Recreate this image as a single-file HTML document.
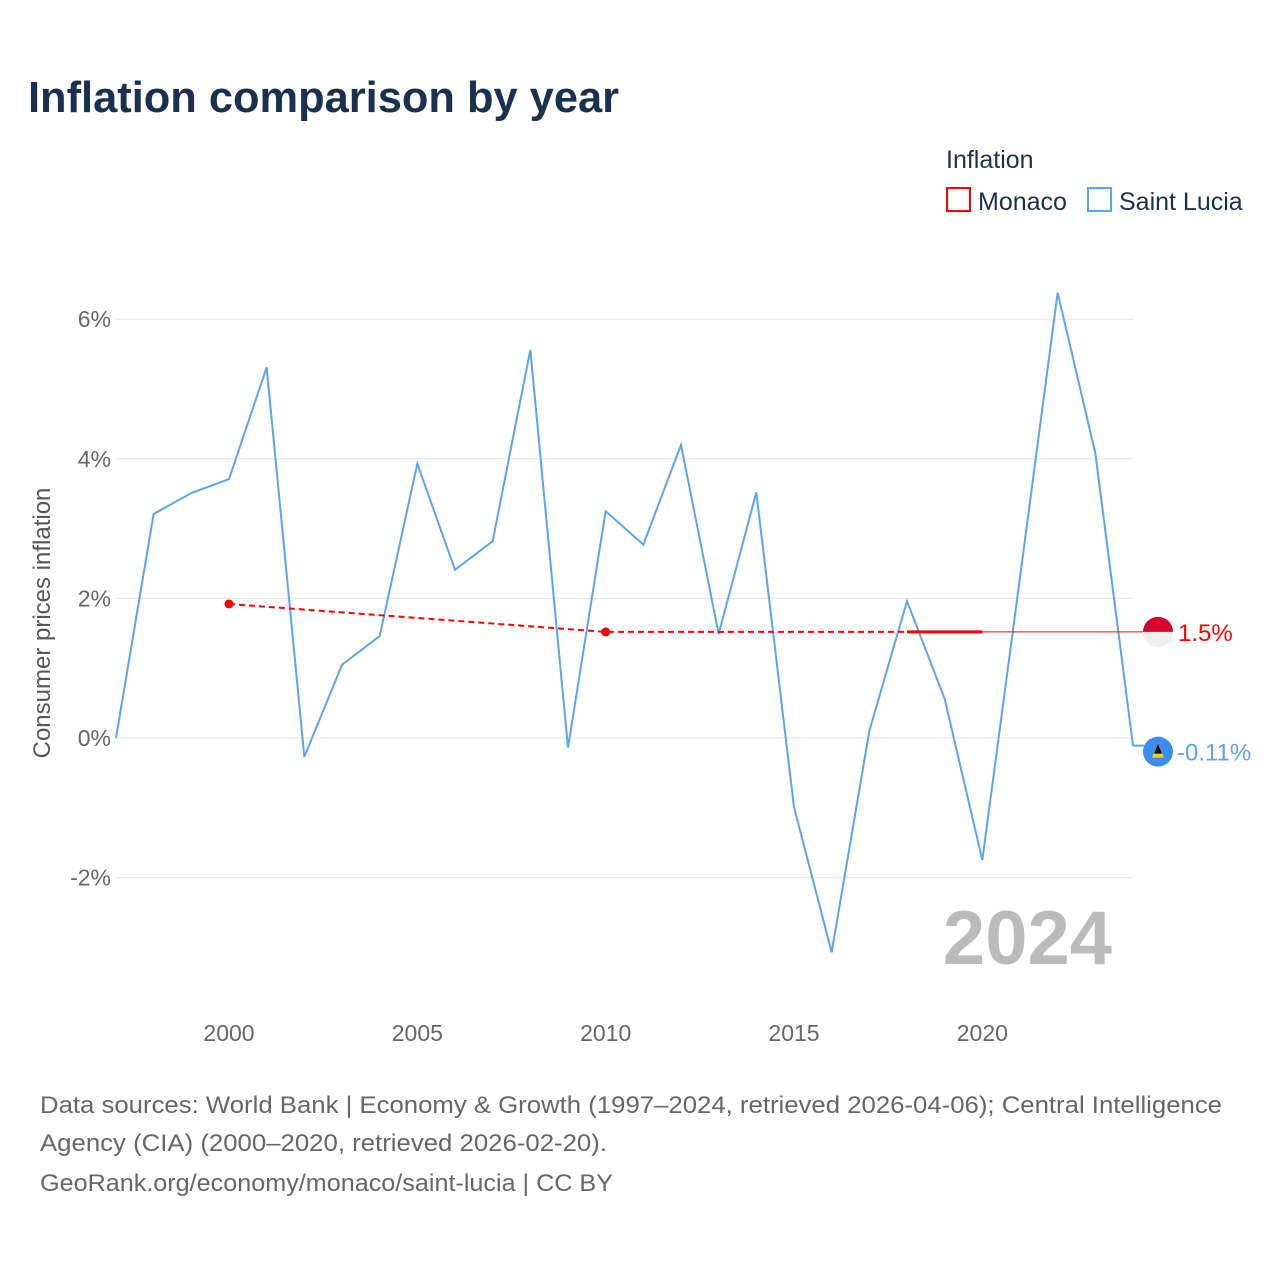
<!DOCTYPE html>
<html><head><meta charset="utf-8"><style>
body{margin:0;background:#fff;font-family:"Liberation Sans",sans-serif}
svg text{font-family:"Liberation Sans",sans-serif}
</style></head><body>
<svg width="1280" height="1280" viewBox="0 0 1280 1280">
<text x="28" y="112" font-size="44" font-weight="bold" fill="#1a3050" textLength="591" lengthAdjust="spacingAndGlyphs">Inflation comparison by year</text>
<g>
<text x="946" y="168" font-size="25" fill="#1a3050">Inflation</text>
<g><rect x="947" y="188" width="23" height="23" fill="none" stroke="#f00" stroke-width="2"/><text x="978" y="210" font-size="25" fill="#1a3050">Monaco</text></g>
<g><rect x="1088" y="188" width="23" height="23" fill="none" stroke="#5aa5ee" stroke-width="2"/><text x="1119" y="210" font-size="25" fill="#1a3050">Saint Lucia</text></g>
</g>
<g id="grid"></g>
<g id="yt"></g>
<g id="xt"></g>
<text transform="translate(50,623) rotate(-90)" text-anchor="middle" font-size="24" fill="#555">Consumer prices inflation</text>
<text x="1112" y="964" text-anchor="end" font-size="76" font-weight="bold" fill="#bbb">2024</text>
<g id="series"></g>
<text x="40" y="1113" font-size="24" fill="#666" textLength="1182" lengthAdjust="spacingAndGlyphs">Data sources: World Bank | Economy &amp; Growth (1997–2024, retrieved 2026-04-06); Central Intelligence</text>
<text x="40" y="1151" font-size="24" fill="#666" textLength="567" lengthAdjust="spacingAndGlyphs">Agency (CIA) (2000–2020, retrieved 2026-02-20).</text>
<text x="40" y="1191" font-size="24" fill="#666" textLength="573" lengthAdjust="spacingAndGlyphs">GeoRank.org/economy/monaco/saint-lucia | CC BY</text>
</svg>
<script>
const yTicks=[-2,0,2,4,6];
const xTicks=[2000,2005,2010,2015,2020];
const luciaYears=[1997,1998,1999,2000,2001,2002,2003,2004,2005,2006,2007,2008,2009,2010,2011,2012,2013,2014,2015,2016,2017,2018,2019,2020,2021,2022,2023,2024];
const luciaValues=[0,3.21,3.51,3.71,5.31,-0.27,1.05,1.46,3.93,2.41,2.82,5.56,-0.14,3.25,2.77,4.2,1.49,3.52,-0.99,-3.07,0.1,1.96,0.56,-1.75,2.3,6.38,4.08,-0.11];
const monacoYears=[2000,2010,2018,2020];
const monacoValues=[1.92,1.52,1.52,1.52];
const NS='http://www.w3.org/2000/svg';
const X=y=>116+(y-1997)*(1133-116)/27;
const Y=v=>738-v*69.8;
function mk(t,a,p){const e=document.createElementNS(NS,t);for(const k in a)e.setAttribute(k,a[k]);p.appendChild(e);return e;}
const grid=document.getElementById('grid'),yt=document.getElementById('yt'),xt=document.getElementById('xt'),S=document.getElementById('series');
yTicks.forEach(v=>{
 const l=mk('line',{x1:116,x2:1133,y1:Y(v),y2:Y(v),stroke:'#e6e6e6','stroke-width':1},grid);
 
 
 const t=mk('text',{x:111,y:Y(v)+8,'text-anchor':'end','font-size':23,fill:'#666'},yt);t.textContent=v+'%';
 
 
});
xTicks.forEach(y=>{
 const t=mk('text',{x:X(y),y:1041,'text-anchor':'middle','font-size':23,fill:'#666'},xt);t.textContent=y;
 
 
});
const lp=luciaYears.map((y,i)=>X(y)+','+Y(luciaValues[i])).join(' ');
const ll=mk('polyline',{points:lp,fill:'none',stroke:'#5aa5ee','stroke-width':2},S);


const lastM=monacoValues[monacoValues.length-1];
const ref=mk('line',{x1:X(2018),x2:1150,y1:Y(lastM),y2:Y(lastM),stroke:'#f00','stroke-width':1},S);


const dp=monacoYears.slice(0,3).map((y,i)=>X(y)+','+Y(monacoValues[i])).join(' ');
const md=mk('polyline',{points:dp,fill:'none',stroke:'#f00','stroke-width':2,'stroke-dasharray':'6,4'},S);


const ms=mk('line',{x1:X(monacoYears[2]),y1:Y(monacoValues[2]),x2:X(monacoYears[3]),y2:Y(monacoValues[3]),stroke:'#f00','stroke-width':3},S);


[0,1].forEach(i=>{const c=mk('circle',{cx:X(monacoYears[i]),cy:Y(monacoValues[i]),r:4.5,fill:'#f00'},S);
 
 });
const lastL=luciaValues[luciaValues.length-1];
const lt=mk('line',{x1:X(2024),x2:1150,y1:Y(lastL),y2:Y(lastL),stroke:'#5aa5ee','stroke-width':2},S);


const fy=Y(lastM);
const g1=mk('g',{},S);


mk('clipPath',{id:'cf'},g1);mk('circle',{cx:1158,cy:fy,r:15},document.getElementById('cf'));
mk('rect',{x:1143,y:fy-15,width:30,height:15,fill:'#d5002b','clip-path':'url(#cf)'},g1);
mk('rect',{x:1143,y:fy,width:30,height:15,fill:'#eee','clip-path':'url(#cf)'},g1);
const t1=mk('text',{x:1178,y:fy+9,'font-size':24,fill:'#f00'},S);t1.textContent=lastM.toFixed(1)+'%';


const ly=Y(lastL)+6;
const g2=mk('g',{},S);


mk('circle',{cx:1158,cy:ly,r:15,fill:'#3b8ef0'},g2);
mk('polygon',{points:`1158,${ly-8} 1152,${ly+6} 1164,${ly+6}`,fill:'#f5d020'},g2);
mk('polygon',{points:`1158,${ly-8} 1154,${ly+2} 1162,${ly+2}`,fill:'#111'},g2);
const t2=mk('text',{x:1177,y:ly+9,'font-size':24,fill:'#5aa5ee'},S);t2.textContent=lastL+'%';


</script>
</body></html>
